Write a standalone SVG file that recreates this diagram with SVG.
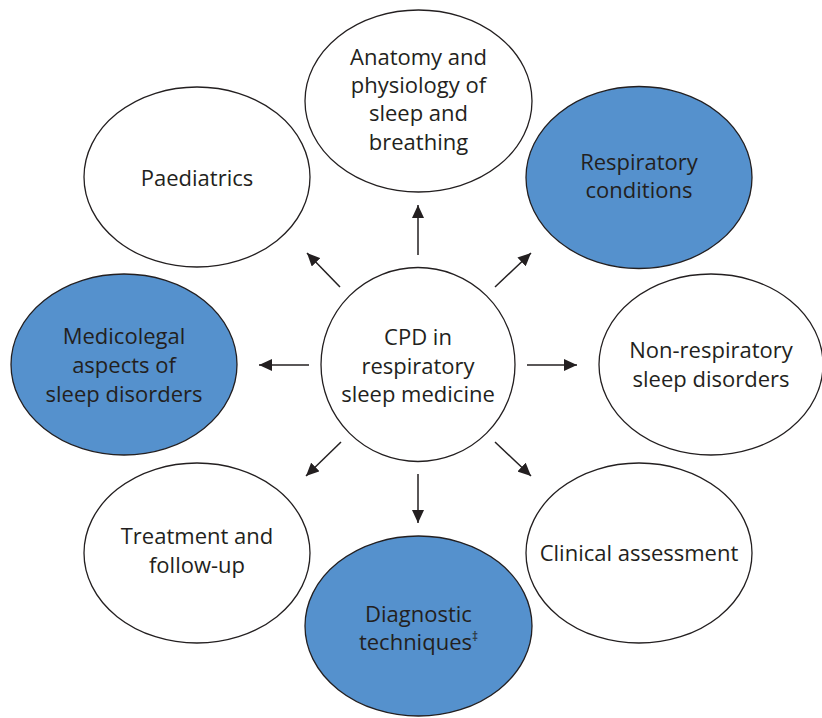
<svg xmlns="http://www.w3.org/2000/svg" width="822" height="718" viewBox="0 0 822 718">
<style>
.node ellipse{stroke:#231f20;stroke-width:1.3}
.w{fill:#ffffff}
.b{fill:#5591cd}
text{font-family:"Open Sans","Noto Sans","Liberation Sans",sans-serif;font-size:22px;fill:#231f20;text-anchor:middle}
.conn line{stroke:#231f20;stroke-width:1.5;marker-end:url(#ah)}
</style>
<defs>
<marker id="ah" markerUnits="userSpaceOnUse" markerWidth="14" markerHeight="12" refX="13" refY="6" orient="auto">
<path d="M0,0 L13,6 L0,12 Z" fill="#231f20"/>
</marker>
</defs>
<rect width="822" height="718" fill="#ffffff"/>
<g id="anatomy" class="node">
<ellipse class="w" cx="418.5" cy="101" rx="113.5" ry="91"/>
<text x="418.5" y="65">Anatomy and</text>
<text x="418.5" y="93">physiology of</text>
<text x="418.5" y="121">sleep and</text>
<text x="418.5" y="150">breathing</text>
</g>
<g id="respiratory" class="node">
<ellipse class="b" cx="639" cy="177.5" rx="113" ry="91"/>
<text x="639" y="170">Respiratory</text>
<text x="639" y="198">conditions</text>
</g>
<g id="paediatrics" class="node">
<ellipse class="w" cx="197" cy="177" rx="113" ry="90"/>
<text x="197" y="186">Paediatrics</text>
</g>
<g id="medicolegal" class="node">
<ellipse class="b" cx="124" cy="364.5" rx="113" ry="90.5"/>
<text x="124" y="344">Medicolegal</text>
<text x="124" y="373">aspects of</text>
<text x="124" y="402">sleep disorders</text>
</g>
<g id="center" class="node">
<ellipse class="w" cx="418" cy="364.5" rx="97" ry="97"/>
<text x="418" y="345">CPD in</text>
<text x="418" y="374">respiratory</text>
<text x="418" y="402">sleep medicine</text>
</g>
<g id="nonrespiratory" class="node">
<ellipse class="w" cx="711" cy="364.5" rx="112" ry="90.5"/>
<text x="711" y="358">Non-respiratory</text>
<text x="711" y="387">sleep disorders</text>
</g>
<g id="treatment" class="node">
<ellipse class="w" cx="197" cy="553" rx="113" ry="90"/>
<text x="197" y="544">Treatment and</text>
<text x="197" y="573">follow-up</text>
</g>
<g id="clinical" class="node">
<ellipse class="w" cx="639" cy="553" rx="113" ry="90"/>
<text x="639" y="561">Clinical assessment</text>
</g>
<g id="diagnostic" class="node">
<ellipse class="b" cx="418.5" cy="626" rx="113.5" ry="90"/>
<text x="418.5" y="622">Diagnostic</text>
<text x="418.5" y="650">techniques<tspan font-size="12" dy="-9">‡</tspan></text>
</g>
<g id="connectors" class="conn">
<line x1="418" y1="255" x2="418" y2="205"/>
<line x1="340" y1="287" x2="307" y2="253"/>
<line x1="309" y1="365" x2="259" y2="365"/>
<line x1="341" y1="442" x2="306" y2="476"/>
<line x1="495" y1="287" x2="531" y2="253"/>
<line x1="527" y1="365" x2="577" y2="365"/>
<line x1="495" y1="442" x2="531" y2="476"/>
<line x1="418" y1="474" x2="418" y2="523"/>
</g>
</svg>
